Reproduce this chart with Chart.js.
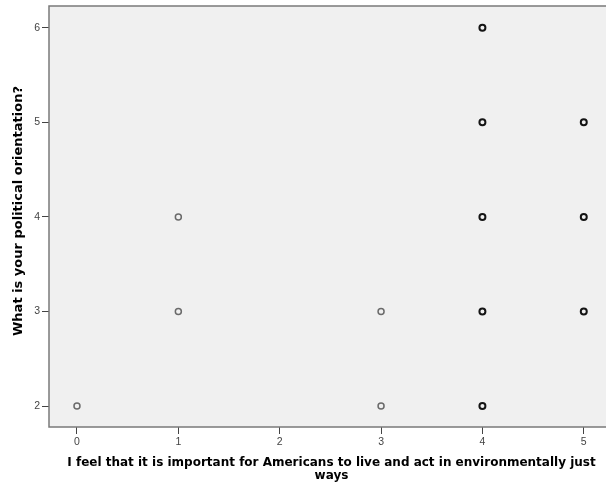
<!DOCTYPE html>
<html>
<head>
<meta charset="utf-8">
<script src="https://cdn.jsdelivr.net/npm/chart.js@4/dist/chart.umd.min.js"></script>
<style>
  html, body { margin: 0; padding: 0; background: #ffffff; overflow: hidden; }
  #chart { display: block; }
</style>
</head>
<body>
<canvas id="chart" width="606" height="488"></canvas>
<script>
// Responses drawn once (light circles)
const singleX = [0, 1, 1, 3, 3];
const singleY = [2, 3, 4, 2, 3];
// Responses given by several people (overprinted, darker circles)
const repeatedX = [4, 4, 4, 4, 4, 5, 5, 5];
const repeatedY = [2, 3, 4, 5, 6, 3, 4, 5];

const xTicks = [0, 1, 2, 3, 4, 5];
const yTicks = [2, 3, 4, 5, 6];

const xTitle = ['I feel that it is important for Americans to live and act in environmentally just', 'ways'];
const yTitle = 'What is your political orientation?';

const toPoints = (xs, ys) => xs.map((x, i) => ({ x: x, y: ys[i] }));

// Grey plot panel running to the right edge, framed on top, left and bottom,
// plus the two axis titles
const panel = {
  id: 'panel',
  beforeDraw(chart) {
    const { ctx, chartArea: a } = chart;
    ctx.save();
    ctx.fillStyle = '#f0f0f0';
    ctx.fillRect(a.left, a.top, chart.width - a.left, a.bottom - a.top);
    ctx.restore();
  },
  afterDatasetsDraw(chart) {
    const { ctx, chartArea: a } = chart;
    ctx.save();
    ctx.strokeStyle = '#7a7a7a';
    ctx.lineWidth = 1.5;
    ctx.beginPath();
    ctx.moveTo(chart.width, a.top);
    ctx.lineTo(a.left, a.top);
    ctx.lineTo(a.left, a.bottom);
    ctx.lineTo(chart.width, a.bottom);
    ctx.stroke();

    ctx.fillStyle = '#000000';
    ctx.textAlign = 'center';
    ctx.textBaseline = 'middle';

    // x-axis title, two lines
    ctx.font = 'bold 12px "DejaVu Sans", Verdana, sans-serif';
    const cx = (a.left + chart.width) / 2 + 4;
    xTitle.forEach((line, i) => ctx.fillText(line, cx, 463 + i * 13));

    // y-axis title, rotated
    ctx.font = 'bold 13px "DejaVu Sans", Verdana, sans-serif';
    ctx.translate(19, 211);
    ctx.rotate(-Math.PI / 2);
    ctx.fillText(yTitle, 0, 0);
    ctx.restore();
  }
};

const tickFont = { family: 'Liberation Sans, Arial, sans-serif', size: 10.5 };

new Chart(document.getElementById('chart'), {
  type: 'scatter',
  data: {
    datasets: [
      {
        data: toPoints(singleX, singleY),
        pointStyle: 'circle',
        pointRadius: 3,
        pointHoverRadius: 3,
        pointBorderWidth: 1.5,
        pointBorderColor: '#6a6a6a',
        pointBackgroundColor: 'rgba(0,0,0,0)'
      },
      {
        data: toPoints(repeatedX, repeatedY),
        pointStyle: 'circle',
        pointRadius: 3,
        pointHoverRadius: 3,
        pointBorderWidth: 2,
        pointBorderColor: '#141414',
        pointBackgroundColor: 'rgba(0,0,0,0)'
      }
    ]
  },
  options: {
    responsive: false,
    animation: false,
    events: [],
    layout: { padding: { top: 6, right: 0, left: 0, bottom: 0 } },
    plugins: {
      legend: { display: false },
      tooltip: { enabled: false }
    },
    scales: {
      x: {
        type: 'linear',
        min: -0.276,
        max: 5.17,
        afterBuildTicks(scale) { scale.ticks = xTicks.map(v => ({ value: v })); },
        afterFit(scale) { scale.height = 61; scale.paddingLeft = 0; scale.paddingRight = 0; },
        border: { display: false },
        grid: { drawOnChartArea: false, drawTicks: true, tickLength: 7, color: '#444444', lineWidth: 1 },
        ticks: { color: '#444444', font: tickFont, padding: 2, maxRotation: 0 },
        title: { display: false }
      },
      y: {
        type: 'linear',
        min: 1.778,
        max: 6.23,
        afterBuildTicks(scale) { scale.ticks = yTicks.map(v => ({ value: v })); },
        afterFit(scale) { scale.width = 49; scale.paddingTop = 0; scale.paddingBottom = 0; },
        border: { display: false },
        grid: { drawOnChartArea: false, drawTicks: true, tickLength: 7, color: '#444444', lineWidth: 1 },
        ticks: { color: '#444444', font: tickFont, padding: 2 },
        title: { display: false }
      }
    }
  },
  plugins: [panel]
});
</script>
</body>
</html>
